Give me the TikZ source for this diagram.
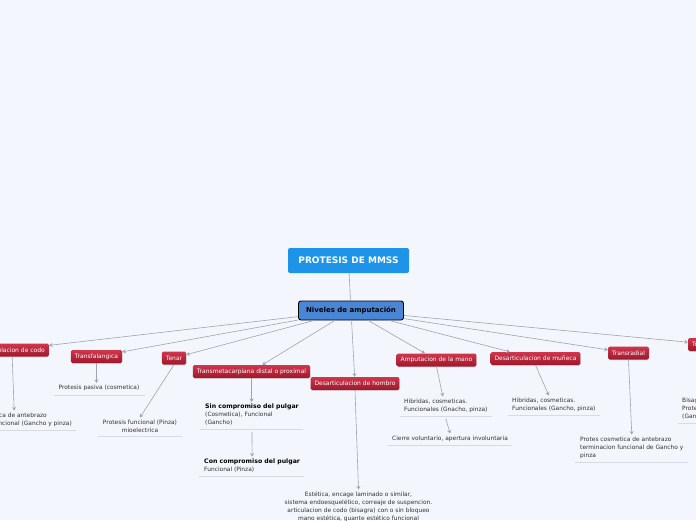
\documentclass[tikz,border=0pt]{standalone}
\usepackage{fontspec}
\setmainfont{DejaVu Sans}
\usetikzlibrary{arrows.meta,shadows}
\definecolor{bgc}{RGB}{243,246,253}
\definecolor{rootc}{RGB}{30,148,232}
\definecolor{nivc}{RGB}{74,134,214}
\definecolor{redtop}{RGB}{208,54,76}
\definecolor{redbot}{RGB}{158,24,44}
\definecolor{connc}{RGB}{160,164,176}
\definecolor{txtc}{RGB}{51,51,51}
\definecolor{ulc}{RGB}{214,219,228}
\tikzset{
  rootbox/.style={rectangle, rounded corners=2pt, fill=rootc, text=white,
    font=\fontsize{9}{10}\selectfont\bfseries, minimum width=121pt, minimum height=25pt},
  nivbox/.style={rectangle, rounded corners=2.5pt, fill=nivc, draw=black, line width=0.9pt,
    text=black, font=\fontsize{7}{8}\selectfont\bfseries, minimum width=105pt, minimum height=19pt},
  redbox/.style={rectangle, rounded corners=1.5pt, top color=redtop, bottom color=redbot,
    text=white, font=\fontsize{6}{7}\selectfont, inner xsep=4pt, inner ysep=0pt,
    minimum height=13pt, drop shadow={opacity=0.2, shadow xshift=0.4pt, shadow yshift=-0.8pt}},
  childtxt/.style={inner sep=0pt, text=txtc, font=\fontsize{5.9}{8}\selectfont},
  conn/.style={draw=connc, line width=0.6pt, -{Stealth[length=3.5pt,width=4pt]}},
  plainconn/.style={draw=connc, line width=0.6pt},
  uline/.style={draw=ulc, line width=1pt}
}
\newcommand{\boldhead}[1]{{\fontsize{6.2}{8}\selectfont\bfseries\color{black}#1}}
\begin{document}
\begin{tikzpicture}[x=1pt,y=-1pt]
\fill[bgc] (0,0) rectangle (696,520);
\useasboundingbox (0,0) rectangle (696,520);
\clip (0,0) rectangle (696,520);

\node[rootbox] (root) at (348.5,260.5) {PROTESIS DE MMSS};
\node[nivbox] (niv) at (351,310.5) {Niveles de amputación};

\node[redbox, anchor=east] (codo) at (49,350) {Desarticulacion de codo};
\node[redbox] (transf) at (96.5,356.5) {Transfalangica};
\node[redbox] (tenar) at (174,358) {Tenar};
\node[redbox] (transmet) at (251.5,371.5) {Transmetacarpiana distal o proximal};
\node[redbox] (hombro) at (355,383.5) {Desarticulacion de hombro};
\node[redbox] (mano) at (436.5,360) {Amputacion de la mano};
\node[redbox] (muneca) at (535.5,358.5) {Desarticulacion de muñeca};
\node[redbox] (radial) at (628.5,353) {Transradial};
\node[redbox, anchor=west] (humeral) at (688,344.5) {Transhumeral};

\node[childtxt, anchor=north east, align=left] (codoch) at (72,412.5)
  {Protes cosmetica de antebrazo\\terminacion funcional (Gancho y pinza)};
\node[childtxt, align=center] (transfch) at (99,388) {Protesis pasiva (cosmetica)};
\node[childtxt, anchor=north, align=center] (tenarch) at (140,419.5)
  {Protesis funcional (Pinza)\\mioelectrica};
\node[childtxt, anchor=north west, align=left] (sin) at (205,404)
  {\boldhead{Sin compromiso del pulgar}\\(Cosmetica), Funcional\\(Gancho)};
\node[childtxt, anchor=north west, align=left] (con) at (204,458.5)
  {\boldhead{Con compromiso del pulgar}\\Funcional (Pinza)};
\node[childtxt, anchor=north, align=center] (hombroch) at (358.5,491.5)
  {Estética, encage laminado o similar,\\sistema endoesquelético, correaje de suspencion.\\articulacion de codo (bisagra) con o sin bloqueo\\mano estética, guante estético funcional};
\node[childtxt, anchor=north west, align=left] (manoch) at (404,398.5)
  {Hibridas, cosmeticas.\\Funcionales (Gnacho, pinza)};
\node[childtxt, anchor=north west, align=left] (cierre) at (392,435.5)
  {Cierre voluntario, apertura involuntaria};
\node[childtxt, anchor=north west, align=left] (munecach) at (512,397.5)
  {Hibridas, cosmeticas.\\Funcionales (Gancho, pinza)};
\node[childtxt, anchor=north west, align=left] (radialch) at (580,436.5)
  {Protes cosmetica de antebrazo\\terminacion funcional de Gancho y\\pinza};
\node[childtxt, anchor=north west, align=left] (humch) at (682,397.5)
  {Bisagra\\Protesis\\(Gancho)};

% underlines
\foreach \n/\l/\r in {codoch/4/4, transfch/4/5, tenarch/5/5, sin/5/4, con/5/4, manoch/4/4, cierre/4/4, munecach/4/4, radialch/5/4, humch/4/4}{
  \draw[uline] ([xshift=-\l pt,yshift=-4pt]\n.south west) -- ([xshift=\r pt,yshift=-4pt]\n.south east);
}

% connectors
\draw[plainconn] (root) -- (niv);
\foreach \t in {codo,transf,tenar,transmet,hombro,mano,muneca,radial,humeral}{
  \draw[conn] (niv) -- (\t);
}
\draw[conn] ([xshift=3.5pt]codo.south) -- ([xshift=5.5pt,yshift=2pt]codo.south |- codoch.north);
\draw[conn] (transf.south) -- ([yshift=2pt]transf.south |- transfch.north);
\draw[conn] (tenar.south) -- ([yshift=2pt]tenarch.north);
\draw[conn] (transmet.south) -- ([yshift=2pt]transmet.south |- sin.north);
\draw[conn] ([yshift=-6pt]sin.south) -- ([yshift=2pt]con.north);
\draw[conn] (hombro.south) -- ([yshift=2pt]hombroch.north);
\draw[conn] (mano.south) -- ([xshift=-3pt,yshift=2pt]manoch.north);
\draw[conn] ([yshift=-6pt]manoch.south) -- ([yshift=2pt]cierre.north);
\draw[conn] (muneca.south) -- ([xshift=-5pt,yshift=2pt]munecach.north);
\draw[conn] (radial.south) -- ([yshift=2pt]radialch.north);
\draw[conn] (humeral.south) -- ([yshift=2pt]humeral.south |- humch.north);
\end{tikzpicture}
\end{document}
